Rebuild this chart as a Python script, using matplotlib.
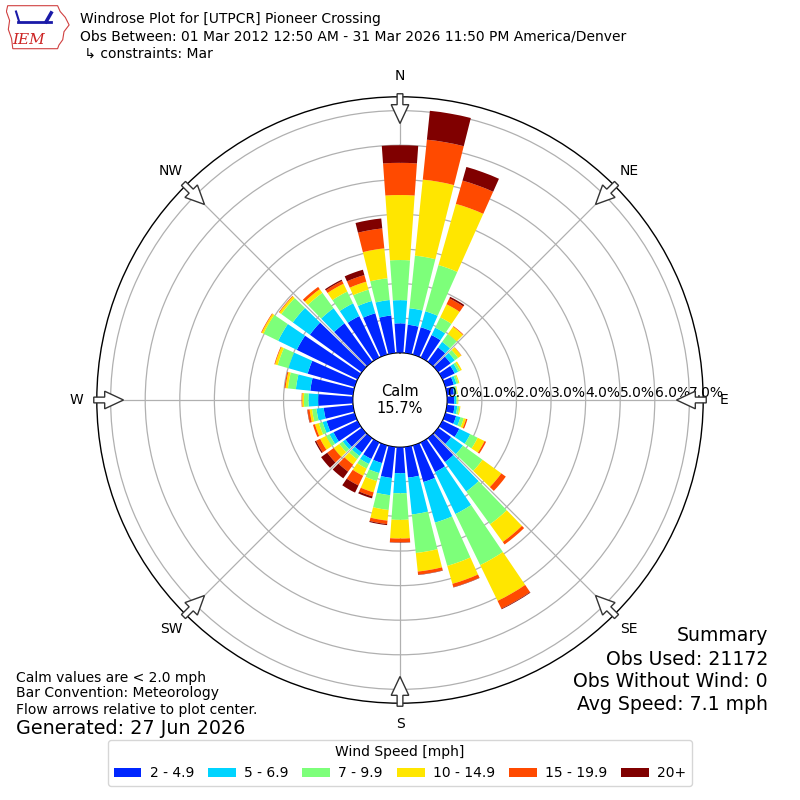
#!/usr/bin/env python3
import numpy as np
import matplotlib
matplotlib.use("Agg")
import matplotlib.pyplot as plt
from matplotlib.patches import FancyArrow, Polygon

# wind direction sectors (deg, met convention)
directions = np.arange(0, 360, 10)

# frequency (%) per speed bin for each sector
spd_2_5 = [0.85, 0.82, 0.82, 0.72, 0.51, 0.44, 0.39, 0.25, 0.20, 0.20, 0.22, 0.32,
           0.54, 0.46, 0.85, 0.95, 1.10, 0.89, 0.75, 0.90, 0.53, 0.53, 0.51, 0.58,
           0.77, 0.84, 0.85, 1.00, 1.24, 1.41, 1.95, 1.85, 1.37, 1.33, 1.24, 1.09]
spd_5_7 = [0.67, 0.48, 0.48, 0.24, 0.20, 0.15, 0.11, 0.08, 0.06, 0.06, 0.08, 0.13,
           0.35, 0.42, 1.05, 1.35, 1.22, 1.07, 0.58, 0.50, 0.30, 0.16, 0.12, 0.10,
           0.13, 0.12, 0.21, 0.28, 0.42, 0.58, 0.60, 0.61, 0.54, 0.41, 0.37, 0.45]
spd_7_10 = [1.16, 1.53, 1.39, 0.33, 0.28, 0.12, 0.07, 0.06, 0.03, 0.04, 0.06, 0.10,
            0.24, 0.70, 1.17, 1.64, 1.30, 1.12, 0.77, 0.43, 0.24, 0.15, 0.12, 0.12,
            0.11, 0.11, 0.13, 0.13, 0.23, 0.32, 0.47, 0.41, 0.55, 0.38, 0.34, 0.63]
spd_10_15 = [1.88, 2.21, 1.84, 0.42, 0.26, 0.11, 0.05, 0.03, 0.02, 0.02, 0.03, 0.07,
             0.22, 0.67, 0.63, 1.15, 0.54, 0.54, 0.54, 0.31, 0.34, 0.23, 0.19, 0.20,
             0.19, 0.12, 0.07, 0.05, 0.07, 0.08, 0.06, 0.07, 0.13, 0.25, 0.24, 0.87]
spd_15_20 = [0.93, 1.16, 0.70, 0.19, 0.02, 0.01, 0.00, 0.00, 0.00, 0.00, 0.00, 0.04,
             0.05, 0.16, 0.09, 0.25, 0.10, 0.09, 0.11, 0.10, 0.12, 0.31, 0.25, 0.23,
             0.13, 0.06, 0.06, 0.02, 0.03, 0.02, 0.02, 0.02, 0.08, 0.09, 0.20, 0.58]
spd_20p = [0.51, 0.84, 0.41, 0.05, 0.00, 0.00, 0.00, 0.00, 0.00, 0.00, 0.00, 0.00,
           0.00, 0.00, 0.00, 0.02, 0.01, 0.01, 0.01, 0.03, 0.06, 0.23, 0.24, 0.22,
           0.04, 0.00, 0.01, 0.00, 0.00, 0.00, 0.00, 0.00, 0.00, 0.04, 0.16, 0.29]

bins = [spd_2_5, spd_5_7, spd_7_10, spd_10_15, spd_15_20, spd_20p]
bin_labels = ["2 - 4.9", "5 - 6.9", "7 - 9.9", "10 - 14.9", "15 - 19.9", "20+"]
bin_colors = ["#0026ff", "#00d4ff", "#7dff7a", "#ffe600", "#ff4a00", "#800000"]

calm_pct = 15.7
rmax = 7.4
ring_ticks = np.arange(0, 8)
compass = ["N", "NE", "E", "SE", "S", "SW", "W", "NW"]


fig = plt.figure(figsize=(8, 8), dpi=100)
ax = fig.add_axes([0.121, 0.121, 0.758, 0.758], projection="polar")
ax.set_theta_zero_location("N")
ax.set_theta_direction(-1)

theta = np.deg2rad(directions)
width = np.deg2rad(8.2)
base = np.zeros(len(directions))
handles = []
for vals, lab, col in zip(bins, bin_labels, bin_colors):
    vals = np.asarray(vals)
    b = ax.bar(theta, vals, width=width, bottom=base, color=col,
               edgecolor="none", label=lab, zorder=3)
    handles.append(b)
    base = base + vals

ax.set_ylim(0, rmax)
ax.set_rorigin(-1.367)
ax.set_yticks(ring_ticks[1:])
ax.set_yticklabels([])
ax.set_xticks(np.deg2rad(np.arange(0, 360, 45)))
ax.set_xticklabels([])
ax.grid(True, color="#b0b0b0", lw=0.9, zorder=1)
for s in ax.spines.values():
    s.set_color("black")
    s.set_linewidth(1.0)

# ring labels along the east axis
for r in ring_ticks:
    ax.text(np.pi / 2, r, "%.1f%%" % r, ha="left", va="bottom",
            fontsize=10, zorder=5)

# compass labels
for i, lab in enumerate(compass):
    ax.text(np.deg2rad(i * 45), 8.0, lab, ha="center", va="center",
            fontsize=10, clip_on=False)

# flow arrows at the rim, pointing to the center
for i in range(8):
    a = np.deg2rad(i * 45)
    ux, uy = np.sin(a), np.cos(a)
    r0, length = 0.505, 0.049
    ax.add_patch(FancyArrow(0.5 + r0 * ux, 0.5 + r0 * uy, -length * ux, -length * uy,
                            width=0.0095, head_width=0.029, head_length=0.031,
                            length_includes_head=True, fc="white", ec="#333333",
                            lw=1.0, transform=ax.transAxes, clip_on=False, zorder=6))

ax.text(0.5, 0.5, "Calm\n%.1f%%" % calm_pct, transform=ax.transAxes,
        ha="center", va="center", fontsize=10.5, zorder=7)

# header
fig.text(0.1, 0.976, "Windrose Plot for [UTPCR] Pioneer Crossing", fontsize=10, va="center")
fig.text(0.1, 0.954, "Obs Between: 01 Mar 2012 12:50 AM - 31 Mar 2026 11:50 PM America/Denver",
         fontsize=10, va="center")
fig.text(0.1, 0.933, " \u21b3 constraints: Mar", fontsize=10, va="center")

# logo
lax = fig.add_axes([0.008, 0.938, 0.08, 0.056])
lax.set_xlim(0, 1)
lax.set_ylim(0, 1)
lax.axis("off")
iowa = [(0.02, 0.98), (0.80, 0.98), (0.84, 0.85), (0.92, 0.72), (0.98, 0.55),
        (0.90, 0.40), (0.88, 0.22), (0.82, 0.10), (0.80, 0.02), (0.10, 0.02),
        (0.08, 0.25), (0.03, 0.45), (0.05, 0.65), (0.00, 0.85)]
lax.add_patch(Polygon(iowa, closed=True, fill=False, ec="#d04040", lw=0.8))
lax.plot([0.18, 0.70], [0.62, 0.62], color="#1a1aa8", lw=2)
lax.plot([0.20, 0.15], [0.62, 0.85], color="#1a1aa8", lw=1.5)
lax.plot([0.62, 0.70], [0.62, 0.82], color="#1a1aa8", lw=2.5)
lax.text(0.35, 0.22, "IEM", color="#cc2222", fontsize=11, style="italic",
         family="DejaVu Serif", ha="center", va="center")

# notes
fig.text(0.02, 0.153, "Calm values are < 2.0 mph", fontsize=10, va="center")
fig.text(0.02, 0.134, "Bar Convention: Meteorology", fontsize=10, va="center")
fig.text(0.02, 0.112, "Flow arrows relative to plot center.", fontsize=10, va="center")
fig.text(0.02, 0.089, "Generated: 27 Jun 2026", fontsize=13.8, va="center")

fig.text(0.96, 0.206, "Summary", fontsize=13.6, ha="right", va="center")
fig.text(0.96, 0.176, "Obs Used: 21172", fontsize=13.6, ha="right", va="center")
fig.text(0.96, 0.148, "Obs Without Wind: 0", fontsize=13.6, ha="right", va="center")
fig.text(0.96, 0.119, "Avg Speed: 7.1 mph", fontsize=13.6, ha="right", va="center")

fig.legend(handles=handles, labels=bin_labels, loc="lower center",
           bbox_to_anchor=(0.5, 0.009), ncol=6, fontsize=10,
           columnspacing=1.0, handletextpad=0.6,
           title="Wind Speed [mph]", title_fontsize=10)

fig.savefig("out.png", dpi=100)
